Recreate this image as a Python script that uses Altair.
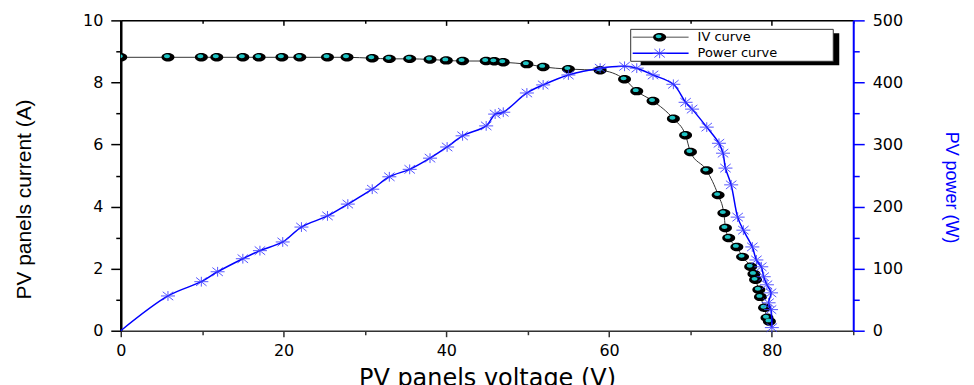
import altair as alt
import pandas as pd

# ---------------- data ----------------
iv_voltage = [0, 5.8, 9.9, 11.8, 15.0, 17.0, 19.8, 22.0, 25.4, 27.8, 30.9, 33.0,
              35.5, 38.0, 40.0, 42.0, 44.9, 45.9, 47.0, 49.9, 51.9, 55.0, 58.9,
              61.9, 63.4, 65.4, 67.9, 69.4, 70.0, 72.0, 73.4, 74.1, 74.3, 74.7,
              75.7, 76.4, 77.4, 77.8, 78.0, 78.4, 78.6, 79.1, 79.4, 79.7]
iv_current = [8.81, 8.81, 8.81, 8.81, 8.81, 8.81, 8.81, 8.81, 8.81, 8.81, 8.78, 8.76,
              8.76, 8.74, 8.71, 8.69, 8.69, 8.68, 8.65, 8.59, 8.50, 8.43, 8.39,
              8.10, 7.72, 7.40, 6.83, 6.30, 5.76, 5.16, 4.37, 3.79, 3.31, 2.99,
              2.70, 2.38, 2.06, 1.83, 1.64, 1.32, 1.09, 0.74, 0.42, 0.30]

pw_voltage = [0, 5.8, 9.9, 11.9, 15.0, 17.1, 19.9, 22.2, 25.4, 27.9, 30.9, 33.0,
              35.5, 38.0, 40.1, 42.0, 44.9, 46.0, 47.0, 49.9, 51.9, 55.0, 58.9,
              61.9, 63.4, 65.4, 67.9, 69.4, 70.2, 72.0, 73.5, 74.0, 74.3, 75.0,
              75.8, 76.5, 77.6, 78.1, 78.7, 79.0, 79.4, 79.9, 79.6, 79.9, 80.0]
pw_power = [0, 56, 79, 95, 116, 129, 143, 167, 185, 204, 228, 248,
            260, 278, 296, 314, 330, 349, 352, 383, 396, 412, 423,
            426, 423, 412, 397, 368, 357, 328, 302, 286, 262, 235,
            183, 162, 135, 114, 103, 87, 74, 61, 45, 34, 5]

x_major = [0, 20, 40, 60, 80]
x_minor = [10, 30, 50, 70, 90]
yl_major = [0, 2, 4, 6, 8, 10]
yl_minor = [1, 3, 5, 7, 9]
yr_major = [0, 100, 200, 300, 400, 500]
yr_minor = [50, 150, 250, 350, 450]

legend_labels = ["IV curve", "Power curve"]

# ---------------- styling ----------------
W, H = 734, 311
FONT = "DejaVu Sans"
TFONT = "Liberation Sans"
BLUE = "#0000ff"
STAR_BLUE = "#3a3aff"
CYAN = "#1fc4c4"
ELLIPSE = "M-1,0A1,0.65,0,1,1,1,0A1,0.65,0,1,1,-1,0Z"
STAR = "M-1,0L1,0M0,-0.7L0,0.7M-0.75,-0.6L0.75,0.6M-0.75,0.6L0.75,-0.6"

iv = pd.DataFrame({"v": iv_voltage, "i": iv_current})
pw = pd.DataFrame({"v": pw_voltage, "p": pw_power, "k": list(range(len(pw_voltage)))})
pw_pts = pw[pw["v"] > 0]
one = pd.DataFrame({"a": [0]})

xs = alt.Scale(domain=[0, 90], nice=False, zero=False)
yls = alt.Scale(domain=[0, 10], nice=False)
yrs = alt.Scale(domain=[0, 500], nice=False)

ax_bottom_major = alt.Axis(orient="bottom", values=x_major, format="d", grid=False,
                           title="PV panels voltage (V)", titleFont=FONT, titleFontSize=24,
                           titleFontWeight="normal", titleColor="black", titleBaseline="top",
                           titleY=36,
                           labelFont=FONT, labelFontSize=16, labelColor="black",
                           labelPadding=6, labelFlush=False, labelOverlap=False,
                           tickSize=6, tickColor="#333", tickWidth=1.5,
                           domainColor="#333", domainWidth=1.5)
ax_bottom_minor = alt.Axis(orient="bottom", values=x_minor, grid=False, title=None,
                           labels=False, domain=False, tickSize=4, tickColor="#333",
                           tickWidth=1.5)
ax_top_domain = alt.Axis(orient="top", grid=False, title=None, labels=False, ticks=False,
                         domainColor="black", domainWidth=1.5)
ax_top_major = alt.Axis(orient="top", values=x_major, grid=False, title=None, labels=False,
                        domain=False, offset=-5, tickSize=5, tickColor="black", tickWidth=1.5)
ax_top_minor = alt.Axis(orient="top", values=x_minor, grid=False, title=None, labels=False,
                        domain=False, offset=-3, tickSize=3, tickColor="black", tickWidth=1.5)

ax_left_major = alt.Axis(orient="left", values=yl_major, format="d", grid=False,
                         title="PV panels current (A)", titleFont=TFONT, titleFontSize=21,
                         titleFontWeight="normal", titleColor="black", titleAngle=270,
                         titleBaseline="middle", titleAlign="center", titleX=-96, titleY=179,
                         labelFont=FONT, labelFontSize=16, labelColor="black",
                         labelPadding=8, labelOverlap=False, labelFlush=False,
                         tickSize=10, tickColor="black", tickWidth=1.5,
                         domainColor="black", domainWidth=2.5)
ax_left_minor = alt.Axis(orient="left", values=yl_minor, grid=False, title=None,
                         labels=False, domain=False, tickSize=5, tickColor="black",
                         tickWidth=1.5)
ax_right_major = alt.Axis(orient="right", values=yr_major, format="d", grid=False,
                          title="PV power (W)", titleFont=TFONT, titleFontSize=18,
                          titleFontWeight="normal", titleColor=BLUE, titleAngle=90,
                          titleBaseline="middle", titleAlign="center", titleX=97, titleY=167,
                          labelFont=FONT, labelFontSize=16, labelColor="black",
                          labelPadding=8, labelOverlap=False, labelFlush=False,
                          tickSize=11, tickColor=BLUE, tickWidth=1.5,
                          domainColor=BLUE, domainWidth=2)
ax_right_minor = alt.Axis(orient="right", values=yr_minor, grid=False, title=None,
                          labels=False, domain=False, tickSize=6, tickColor=BLUE,
                          tickWidth=1.5)

# ---------------- layers ----------------
iv_line = alt.Chart(iv).mark_line(color="#333", strokeWidth=1, interpolate="monotone").encode(
    x=alt.X("v:Q", scale=xs, axis=ax_bottom_major),
    y=alt.Y("i:Q", scale=yls, axis=ax_left_major),
)
iv_dots = alt.Chart(iv).mark_point(shape=ELLIPSE, filled=True, size=169, color="black",
                                   opacity=1, clip=True).encode(
    x=alt.X("v:Q", scale=xs, axis=ax_bottom_minor),
    y=alt.Y("i:Q", scale=yls, axis=ax_left_minor),
)
iv_glint = alt.Chart(iv).mark_point(shape=ELLIPSE, filled=True, size=36, color=CYAN,
                                    opacity=1, xOffset=-1, yOffset=-1, clip=True).encode(
    x=alt.X("v:Q", scale=xs, axis=ax_top_domain),
    y=alt.Y("i:Q", scale=yls, axis=None),
)
pw_line = alt.Chart(pw).mark_line(color=BLUE, strokeWidth=1.5, interpolate="catmull-rom").encode(
    x=alt.X("v:Q", scale=xs, axis=ax_top_major),
    y=alt.Y("p:Q", scale=yrs, axis=ax_right_major),
    order=alt.Order("k:Q"),
)
pw_stars = alt.Chart(pw_pts).mark_point(shape=STAR, filled=False, size=196, stroke=STAR_BLUE,
                                        strokeWidth=1, opacity=0.85).encode(
    x=alt.X("v:Q", scale=xs, axis=ax_top_minor),
    y=alt.Y("p:Q", scale=yrs, axis=ax_right_minor),
)

# ---------------- legend (drawn box with shadow) ----------------
base = alt.Chart(one)
lg_shadow = base.mark_rect(color="black").encode(
    x=alt.value(521), x2=alt.value(720), y=alt.value(13), y2=alt.value(45))
lg_box = base.mark_rect(fill="white", stroke="#333", strokeWidth=1).encode(
    x=alt.value(511), x2=alt.value(714), y=alt.value(9), y2=alt.value(41))
lg_line1 = base.mark_rule(color="#888", strokeWidth=1.5).encode(
    x=alt.value(513), x2=alt.value(569), y=alt.value(17))
lg_line2 = base.mark_rule(color=BLUE, strokeWidth=1.5).encode(
    x=alt.value(513), x2=alt.value(569), y=alt.value(33))
lg_dot = base.mark_point(shape=ELLIPSE, filled=True, size=169, color="black", opacity=1).encode(
    x=alt.value(540), y=alt.value(17))
lg_glint = base.mark_point(shape=ELLIPSE, filled=True, size=36, color=CYAN, opacity=1,
                           xOffset=-1, yOffset=-1).encode(x=alt.value(540), y=alt.value(17))
lg_star = base.mark_point(shape=STAR, filled=False, size=196, stroke=STAR_BLUE,
                          strokeWidth=1, opacity=0.85).encode(x=alt.value(540), y=alt.value(33))
lg_text1 = base.mark_text(text=legend_labels[0], align="left", baseline="middle", font=FONT,
                          fontSize=13, color="black").encode(x=alt.value(578), y=alt.value(17))
lg_text2 = base.mark_text(text=legend_labels[1], align="left", baseline="middle", font=FONT,
                          fontSize=13, color="black").encode(x=alt.value(578), y=alt.value(33))

chart = alt.layer(
    iv_line, iv_dots, iv_glint, pw_line, pw_stars,
    lg_shadow, lg_box, lg_line1, lg_line2, lg_dot, lg_glint, lg_star, lg_text1, lg_text2,
).resolve_scale(
    y="independent"
).resolve_axis(
    x="independent", y="independent"
).properties(
    width=W, height=H,
    autosize=alt.AutoSizeParams(type="none"),
    padding={"left": 113, "top": 12, "right": 113, "bottom": 54},
).configure_view(stroke=None).configure(background="white")

chart.save("out.html", embed_options={"renderer": "svg", "actions": False})
